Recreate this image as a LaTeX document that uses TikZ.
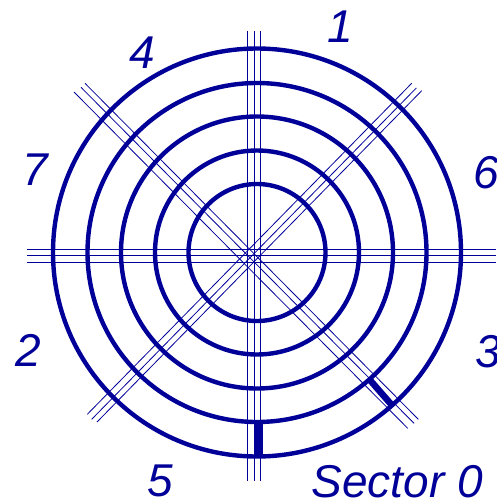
\documentclass[tikz,border=0pt]{standalone}
\usepackage{fontspec}
\setmainfont{Liberation Sans}
\definecolor{ink}{RGB}{0,0,153}
\tikzset{
  ring/.style={draw=ink,line width=4.4pt},
  axis/.style={draw=ink,line width=1pt},
  diag/.style={draw=ink,line width=0.8pt},
  sectorbar/.style={draw=ink,line cap=butt},
  lbl/.style={text=ink,anchor=base west,inner sep=0pt,font=\fontsize{46}{46}\selectfont\itshape}
}
\begin{document}
\begin{tikzpicture}[x=1pt,y=-1pt]
\useasboundingbox (0,0) rectangle (496,503);
\clip (0,0) rectangle (496,503);
\coordinate (c) at (257,252.5);
\foreach \r in {68.5,102,136,169.5,204} \draw[ring] (c) circle[radius=\r pt];
% vertical and horizontal triple lines
\foreach \x in {247.5,254.5,260.5} \draw[axis] (\x,31) -- (\x,480.5);
\foreach \y in {249.5,255.5,262.3} \draw[axis] (27,\y) -- (496,\y);
% diagonals
\draw[diag] (74,92) -- (407.7,428.3);
\draw[diag] (81,87.3) -- (414,423.3);
\draw[diag] (85,83.3) -- (418.3,419.3);
\draw[diag] (411.7,83.3) -- (87.3,414.3);
\draw[diag] (416.3,88) -- (91.7,419.3);
\draw[diag] (421.7,90.7) -- (97,422);
% highlighted sector
\draw[sectorbar,line width=8.5pt] (258.6,421.5) -- (258.6,455.5);
\draw[sectorbar,line width=6.5pt] (369.5,379.5) -- (393,406.5);
% labels
\node[lbl] (n1) at (327,43) {1};
\node[lbl] (n4) at (129.5,68) {4};
\node[lbl] (n7) at (22.5,185) {7};
\node[lbl] (n6) at (473,188) {6};
\node[lbl] (n2) at (15,366) {2};
\node[lbl] (n3) at (475,367) {3};
\node[lbl] (n5) at (147,496) {5};
\node[lbl] (s0) at (311.5,497.5) {Sector 0};
\end{tikzpicture}
\end{document}
